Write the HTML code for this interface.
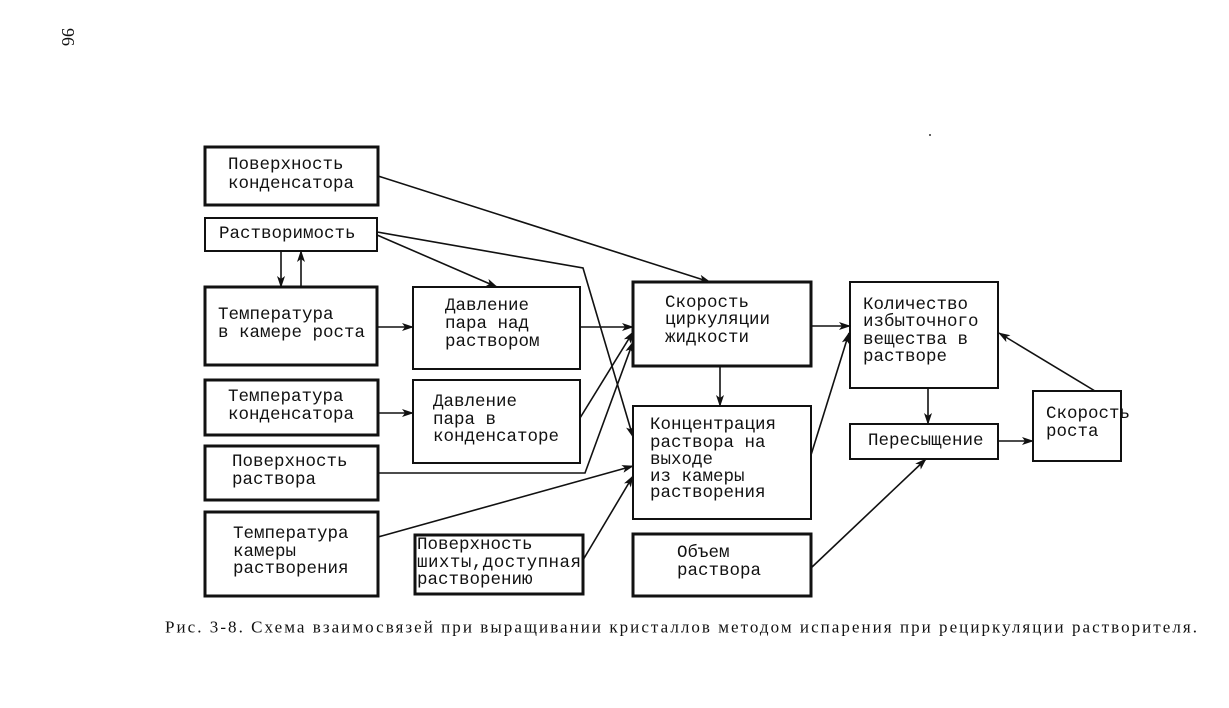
<!DOCTYPE html>
<html><head><meta charset="utf-8"><style>
html,body{margin:0;padding:0;background:#fff;width:1229px;height:708px;overflow:hidden}
svg text{font-family:"Liberation Mono",monospace;font-size:17.5px;fill:#111;dominant-baseline:central}
</style></head><body>
<svg width="1229" height="708" viewBox="0 0 1229 708" xmlns="http://www.w3.org/2000/svg">
<defs><marker id="a" viewBox="0 0 12 8" refX="11" refY="4" markerWidth="12" markerHeight="8" markerUnits="userSpaceOnUse" orient="auto"><path d="M0,0 L12,4 L0,8 L3,4 Z" fill="#111"/></marker></defs>
<text x="0" y="0" transform="translate(68,28) rotate(90)" style="font-family:'Liberation Serif',serif;font-size:18px">96</text>
<circle cx="930" cy="135" r="1" fill="#333"/>
<g fill="none" stroke="#111">
<rect x="205" y="147" width="173" height="58" stroke-width="3"/>
<rect x="205" y="218" width="172" height="33" stroke-width="2"/>
<rect x="205" y="287" width="172" height="78" stroke-width="3"/>
<rect x="413" y="287" width="167" height="82" stroke-width="2"/>
<rect x="205" y="380" width="173" height="55" stroke-width="3"/>
<rect x="413" y="380" width="167" height="83" stroke-width="2"/>
<rect x="205" y="446" width="173" height="54" stroke-width="3"/>
<rect x="205" y="512" width="173" height="84" stroke-width="3"/>
<rect x="415" y="535" width="168" height="59" stroke-width="3"/>
<rect x="633" y="282" width="178" height="84" stroke-width="3"/>
<rect x="633" y="406" width="178" height="113" stroke-width="2"/>
<rect x="633" y="534" width="178" height="62" stroke-width="3"/>
<rect x="850" y="282" width="148" height="106" stroke-width="2"/>
<rect x="850" y="424" width="148" height="35" stroke-width="2"/>
<rect x="1033" y="391" width="88" height="70" stroke-width="2"/>
</g>
<g fill="none" stroke="#111" stroke-width="1.6">
<line x1="378" y1="176" x2="710" y2="282" marker-end="url(#a)"/>
<line x1="377" y1="235" x2="497" y2="287" marker-end="url(#a)"/>
<polyline points="377,232 583,268 633,437" marker-end="url(#a)"/>
<line x1="281" y1="251" x2="281" y2="287" marker-end="url(#a)"/>
<line x1="301" y1="287" x2="301" y2="251" marker-end="url(#a)"/>
<line x1="377" y1="327" x2="413" y2="327" marker-end="url(#a)"/>
<line x1="580" y1="327" x2="633" y2="327" marker-end="url(#a)"/>
<line x1="378" y1="413" x2="413" y2="413" marker-end="url(#a)"/>
<line x1="580" y1="418" x2="633" y2="332" marker-end="url(#a)"/>
<polyline points="378,473 585,473 633,342" marker-end="url(#a)"/>
<line x1="378" y1="537" x2="633" y2="466" marker-end="url(#a)"/>
<line x1="583" y1="560" x2="633" y2="476" marker-end="url(#a)"/>
<line x1="720" y1="366" x2="720" y2="406" marker-end="url(#a)"/>
<line x1="811" y1="326" x2="850" y2="326" marker-end="url(#a)"/>
<line x1="811" y1="455" x2="849" y2="333" marker-end="url(#a)"/>
<line x1="811" y1="568" x2="926" y2="459" marker-end="url(#a)"/>
<line x1="928" y1="388" x2="928" y2="424" marker-end="url(#a)"/>
<line x1="998" y1="441" x2="1033" y2="441" marker-end="url(#a)"/>
<line x1="1095" y1="391" x2="999" y2="333" marker-end="url(#a)"/>
</g>
<text x="228" y="165">Поверхность</text><text x="228" y="184">конденсатора</text>
<text x="219" y="234">Растворимость</text>
<text x="218" y="315">Температура</text><text x="218" y="333">в камере роста</text>
<text x="445" y="306">Давление</text><text x="445" y="324">пара над</text><text x="445" y="342">раствором</text>
<text x="228" y="397">Температура</text><text x="228" y="415">конденсатора</text>
<text x="433" y="402">Давление</text><text x="433" y="420">пара в</text><text x="433" y="437">конденсаторе</text>
<text x="232" y="462">Поверхность</text><text x="232" y="480">раствора</text>
<text x="233" y="534">Температура</text><text x="233" y="552">камеры</text><text x="233" y="569">растворения</text>
<text x="417" y="545">Поверхность</text><text x="417" y="563" textLength="164">шихты,доступная</text><text x="417" y="580">растворению</text>
<text x="665" y="303">Скорость</text><text x="665" y="320">циркуляции</text><text x="665" y="338">жидкости</text>
<text x="650" y="425">Концентрация</text><text x="650" y="443">раствора на</text><text x="650" y="460">выходе</text><text x="650" y="477">из камеры</text><text x="650" y="493">растворения</text>
<text x="677" y="553">Объем</text><text x="677" y="571">раствора</text>
<text x="863" y="305">Количество</text><text x="863" y="322">избыточного</text><text x="863" y="340">вещества в</text><text x="863" y="357">растворе</text>
<text x="868" y="441">Пересыщение</text>
<text x="1046" y="414">Скорость</text><text x="1046" y="432">роста</text>
<text x="165" y="627" textLength="1032" style="font-family:'Liberation Serif',serif;font-size:17px">Рис. 3-8. Схема взаимосвязей при выращивании кристаллов методом испарения при рециркуляции растворителя.</text>
</svg>
</body></html>
